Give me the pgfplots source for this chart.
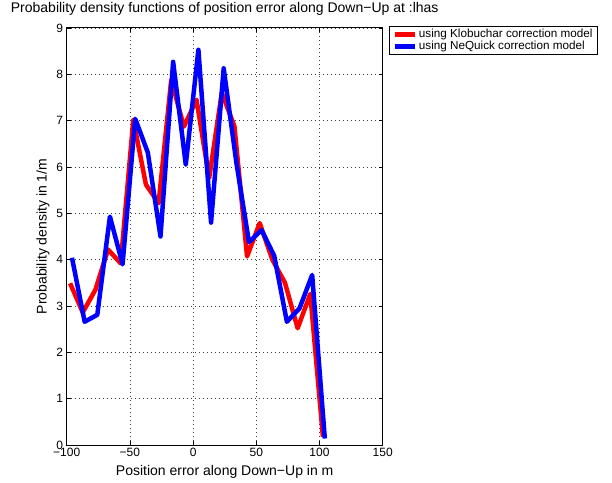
\documentclass[border=0pt]{standalone}
\usepackage{fontspec}
\setmainfont{Liberation Sans}
\usepackage{pgfplots}
\pgfplotsset{compat=1.18}
\begin{document}
\begin{tikzpicture}
\useasboundingbox (-66.7pt,-37pt) rectangle (545.3pt,445pt);
\begin{axis}[
  at={(0pt,0pt)}, anchor=south west,
  scale only axis, width=316pt, height=417pt,
  xmin=-100, xmax=150, ymin=0, ymax=9,
  xtick={-100,-50,0,50,100,150},
  xticklabels={−100,−50,0,50,100,150},
  ytick={0,1,2,3,4,5,6,7,8,9},
  yticklabels={0,1,2,3,4,5,6,7,8,9},
  tick align=inside, xtick pos=both, ytick pos=both,
  major tick length=4pt,
  tick style={black, line width=0.6pt},
  axis line style={black, line width=1pt},
  grid=major,
  major grid style={black!75, line width=0.6pt, dash pattern=on 0.6pt off 3.4pt},
  ticklabel style={font=\fontsize{12}{14}\selectfont},
  xlabel={Position error along Down−Up in m},
  ylabel={Probability density in 1/m},
  title={Probability density functions of position error along Down−Up at :lhas},
  label style={font=\fontsize{14}{16}\selectfont},
  xlabel style={at={(axis description cs:0.5,-0.0743)}, anchor=base},
  ylabel style={at={(axis description cs:-0.0633,0.5)}, anchor=base},
  title style={at={(axis description cs:0.5,1.0233)}, anchor=base, font=\fontsize{14}{16}\selectfont},
  legend style={at={(1.02,1.005)}, anchor=north west, draw=black, line width=0.8pt,
    font=\fontsize{11.7}{12}\selectfont, inner xsep=3pt, inner ysep=1pt, row sep=-2pt},
  legend cell align=left,
  legend image code/.code={\draw[#1] (0pt,0pt) -- (20pt,0pt);},
]
\addplot[red, line width=4.5pt, line join=round] coordinates {
(-97.3,3.49) (-87.3,2.86) (-77.3,3.35) (-67.3,4.22) (-57.3,3.92) (-47.3,7.02)
(-37.3,5.62) (-27.3,5.22) (-17.3,7.88) (-7.3,6.87) (2.7,7.45) (12.7,5.76)
(22.7,7.6) (32.7,6.88) (42.7,4.07) (52.7,4.79) (62.7,4.0) (72.7,3.5)
(82.7,2.52) (92.7,3.26) (102.7,0.18)
};
\addlegendentry{using Klobuchar correction model}
\addplot[blue, line width=4.5pt, line join=round] coordinates {
(-95.8,4.04) (-85.8,2.66) (-75.8,2.81) (-65.8,4.93) (-55.8,3.9) (-45.8,7.04)
(-35.8,6.31) (-25.8,4.5) (-15.8,8.27) (-5.8,6.05) (4.2,8.53) (14.2,4.8)
(24.2,8.13) (34.2,6.1) (44.2,4.38) (54.2,4.64) (64.2,4.08) (74.2,2.66)
(84.2,2.95) (94.2,3.67) (104.2,0.14)
};
\addlegendentry{using NeQuick correction model}
\node[anchor=base west, font=\fontsize{12}{14}\selectfont, inner sep=0pt] at (axis description cs:0,1.015) {x10\textsuperscript{−3}};
\end{axis}
\end{tikzpicture}
\end{document}
